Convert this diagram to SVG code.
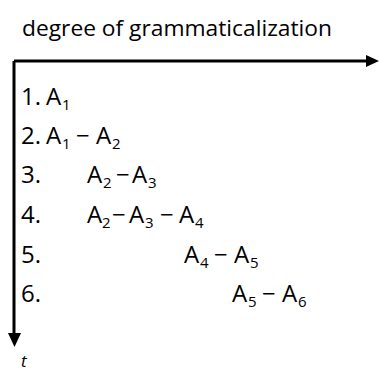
<svg xmlns="http://www.w3.org/2000/svg" width="379" height="372" viewBox="0 0 379 372">
<style>
text{font-family:"Open Sans","Noto Sans",sans-serif;fill:#000}
.t{font-size:22px}
.r{font-size:24px}
.s{font-size:15px}
.ax{stroke:#000;stroke-width:3;fill:none}
</style>
<rect width="379" height="372" fill="#fff"/>
<g id="title"><text class="t" x="22" y="36" textLength="310" lengthAdjust="spacingAndGlyphs">degree of grammaticalization</text></g>
<g id="connectors">
<path class="ax" d="M14 61H368M14 61V334"/>
<polygon points="366,55 379,61 366,67" fill="#000"/>
<polygon points="8,333 14.5,347 21,333" fill="#000"/>
</g>
<g id="row1"><text class="r" y="105"><tspan x="21">1.</tspan><tspan x="46">A</tspan><tspan class="s" x="62" dy="5">1</tspan></text></g>
<g id="row2"><text class="r" y="144"><tspan x="21">2.</tspan><tspan x="46">A</tspan><tspan class="s" x="62" dy="5">1</tspan><tspan x="76" dy="-5">−</tspan><tspan x="96">A</tspan><tspan class="s" x="112" dy="5">2</tspan></text></g>
<g id="row3"><text class="r" y="183"><tspan x="21">3.</tspan><tspan x="87">A</tspan><tspan class="s" x="103" dy="5">2</tspan><tspan x="116" dy="-5">−</tspan><tspan x="132">A</tspan><tspan class="s" x="148" dy="5">3</tspan></text></g>
<g id="row4"><text class="r" y="223"><tspan x="21">4.</tspan><tspan x="87">A</tspan><tspan class="s" x="102" dy="5">2</tspan><tspan x="112" dy="-5">−</tspan><tspan x="129">A</tspan><tspan class="s" x="145" dy="5">3</tspan><tspan x="160" dy="-5">−</tspan><tspan x="179">A</tspan><tspan class="s" x="195" dy="5">4</tspan></text></g>
<g id="row5"><text class="r" y="263"><tspan x="21">5.</tspan><tspan x="184">A</tspan><tspan class="s" x="200" dy="5">4</tspan><tspan x="214" dy="-5">−</tspan><tspan x="234">A</tspan><tspan class="s" x="250" dy="5">5</tspan></text></g>
<g id="row6"><text class="r" y="302"><tspan x="21">6.</tspan><tspan x="232">A</tspan><tspan class="s" x="248" dy="5">5</tspan><tspan x="262" dy="-5">−</tspan><tspan x="282">A</tspan><tspan class="s" x="298" dy="5">6</tspan></text></g>
<g id="tlabel"><text x="21" y="367" style="font-size:17px;font-style:italic">t</text></g>
</svg>
